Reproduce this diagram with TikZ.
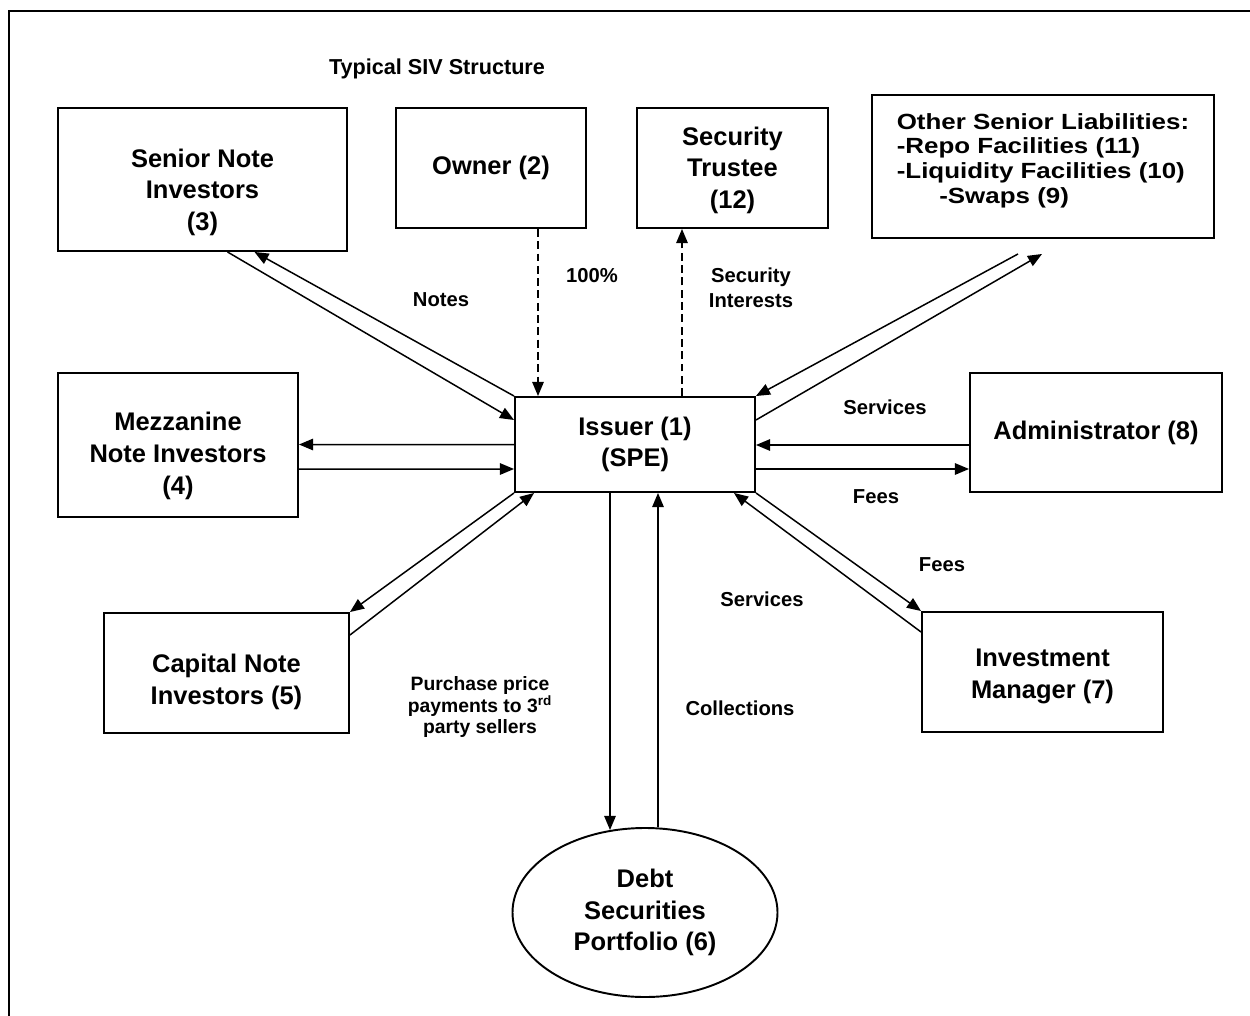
\documentclass[tikz,border=0pt]{standalone}
\usepackage{fontspec}
\setmainfont{Liberation Sans}
\newfontfamily\widesans[FakeStretch=1.18]{Liberation Sans}
\usetikzlibrary{shapes, arrows.meta, calc, positioning}
\newcommand{\padtop}[1]{\rule{0pt}{#1}}
\newcommand{\padbot}[1]{\rule[-#1]{0pt}{#1}}
\tikzset{
  party/.style={rectangle, draw=black, line width=1.1pt, align=center, font=\bfseries\fontsize{14.5}{18}\selectfont},
  flow/.style={-{Triangle[length=8pt, width=6.5pt]}, line width=0.85pt},
  owns/.style={flow, dash pattern=on 4.5pt off 2.5pt},
  tag/.style={align=center, font=\bfseries\fontsize{11.5}{14}\selectfont}
}

\begin{document}
\begin{tikzpicture}[x=0.2mm, y=-0.2mm]
  \useasboundingbox (0,0) rectangle (1250,1016);
  \draw[line width=1.6pt] (9,1016) -- (9,11) -- (1250,11);

  % Nodes
  \node[font=\bfseries\fontsize{12.3}{15}\selectfont] (title) at (437,69) {Typical SIV Structure};
  \node[party, minimum width=57.8mm, minimum height=28.6mm] (snr) at (202.5,179.5) {\padtop{25pt}Senior Note\\Investors\\(3)};
  \node[party, minimum width=38mm, minimum height=24mm] (own) at (491,168) {Owner (2)};
  \node[party, minimum width=38.2mm, minimum height=24mm] (trs) at (732.5,168) {\padtop{13pt}Security\\Trustee\\(12)};
  \node[party, minimum width=68.4mm, minimum height=28.6mm, align=left, font=\widesans\bfseries\fontsize{12.5}{14}\selectfont] (osl) at (1043,166.5)
    {Other Senior Liabilities:\\-Repo Facilities (11)\\-Liquidity Facilities (10)\\\hspace*{8.5mm}-Swaps (9)\padbot{9.5pt}};
  \node[party, minimum width=48mm, minimum height=28.8mm] (mez) at (178,445) {\padtop{23pt}Mezzanine\\Note Investors\\(4)};
  \node[party, minimum width=48mm, minimum height=19mm] (iss) at (635,444.5) {Issuer (1)\\(SPE)};
  \node[party, minimum width=50.4mm, minimum height=23.8mm] (adm) at (1096,432.5) {Administrator (8)};
  \node[party, minimum width=49mm, minimum height=24mm] (cap) at (226.5,673) {\padtop{21pt}Capital Note\\Investors (5)};
  \node[party, minimum width=48.2mm, minimum height=24mm] (inv) at (1042.5,672) {\padtop{15pt}Investment\\Manager (7)};
  \node[party, ellipse, inner sep=0pt, minimum width=53mm, minimum height=33.8mm] (deb) at (645,912.5) {Debt\\Securities\\Portfolio (6)};

  % Arrows
  \draw[flow] (iss.north west) -- ($(snr.south)+(52,0)$);
  \draw[flow] ($(snr.south)+(25,0)$) -- ($(iss.west)+(0,-24.5)$);
  \draw[flow] (iss.west) -- ($(mez.east)+(0,-0.5)$);
  \draw[flow] ($(mez.east)+(0,24)$) -- ($(iss.west)+(0,24.5)$);
  \draw[flow] (iss.south west) -- (cap.north east);
  \draw[flow] ($(cap.east)+(0,-38)$) -- ($(iss.south west)+(20,0)$);
  \draw[flow] ($(iss.south)+(-25,0)$) -- ($(deb.north)+(-35,3)$);
  \draw[flow] ($(deb.north)+(13,0)$) -- ($(iss.south)+(23,0)$);
  \draw[flow] (iss.south east) -- (inv.north west);
  \draw[flow] ($(inv.west)+(0,-40)$) -- ($(iss.south east)+(-22,0)$);
  \draw[flow] ($(adm.west)+(0,12.5)$) -- ($(iss.east)+(0,0.5)$);
  \draw[flow] ($(iss.east)+(0,24.5)$) -- ($(adm.west)+(0,36.5)$);
  \draw[flow] ($(osl.south)+(-25,15)$) -- (iss.north east);
  \draw[flow] ($(iss.east)+(0,-24.5)$) -- ($(osl.south)+(-1,15)$);
  \draw[owns] ($(own.south)+(47,0)$) -- ($(iss.north)+(-97,0)$);
  \draw[owns] ($(iss.north)+(47,0)$) -- ($(trs.south)+(-50.5,0)$);

  % Labels
  \node[tag] (notes) at (441,300) {Notes};
  \node[tag] (pct) at (592,276) {100\%};
  \node[tag] (secint) at (751,287.5) {Security\\Interests};
  \node[tag] (admsvc) at (885,407) {Services};
  \node[tag] (admfee) at (876,497) {Fees};
  \node[tag] (invfee) at (942,565) {Fees};
  \node[tag] (invsvc) at (762,599) {Services};
  \node[tag] (coll) at (740,708) {Collections};
  \node[tag, font=\bfseries\fontsize{11}{12.5}\selectfont] (buy) at (480,707) {Purchase price\\payments to 3\textsuperscript{rd}\\party sellers};
\end{tikzpicture}
\end{document}
